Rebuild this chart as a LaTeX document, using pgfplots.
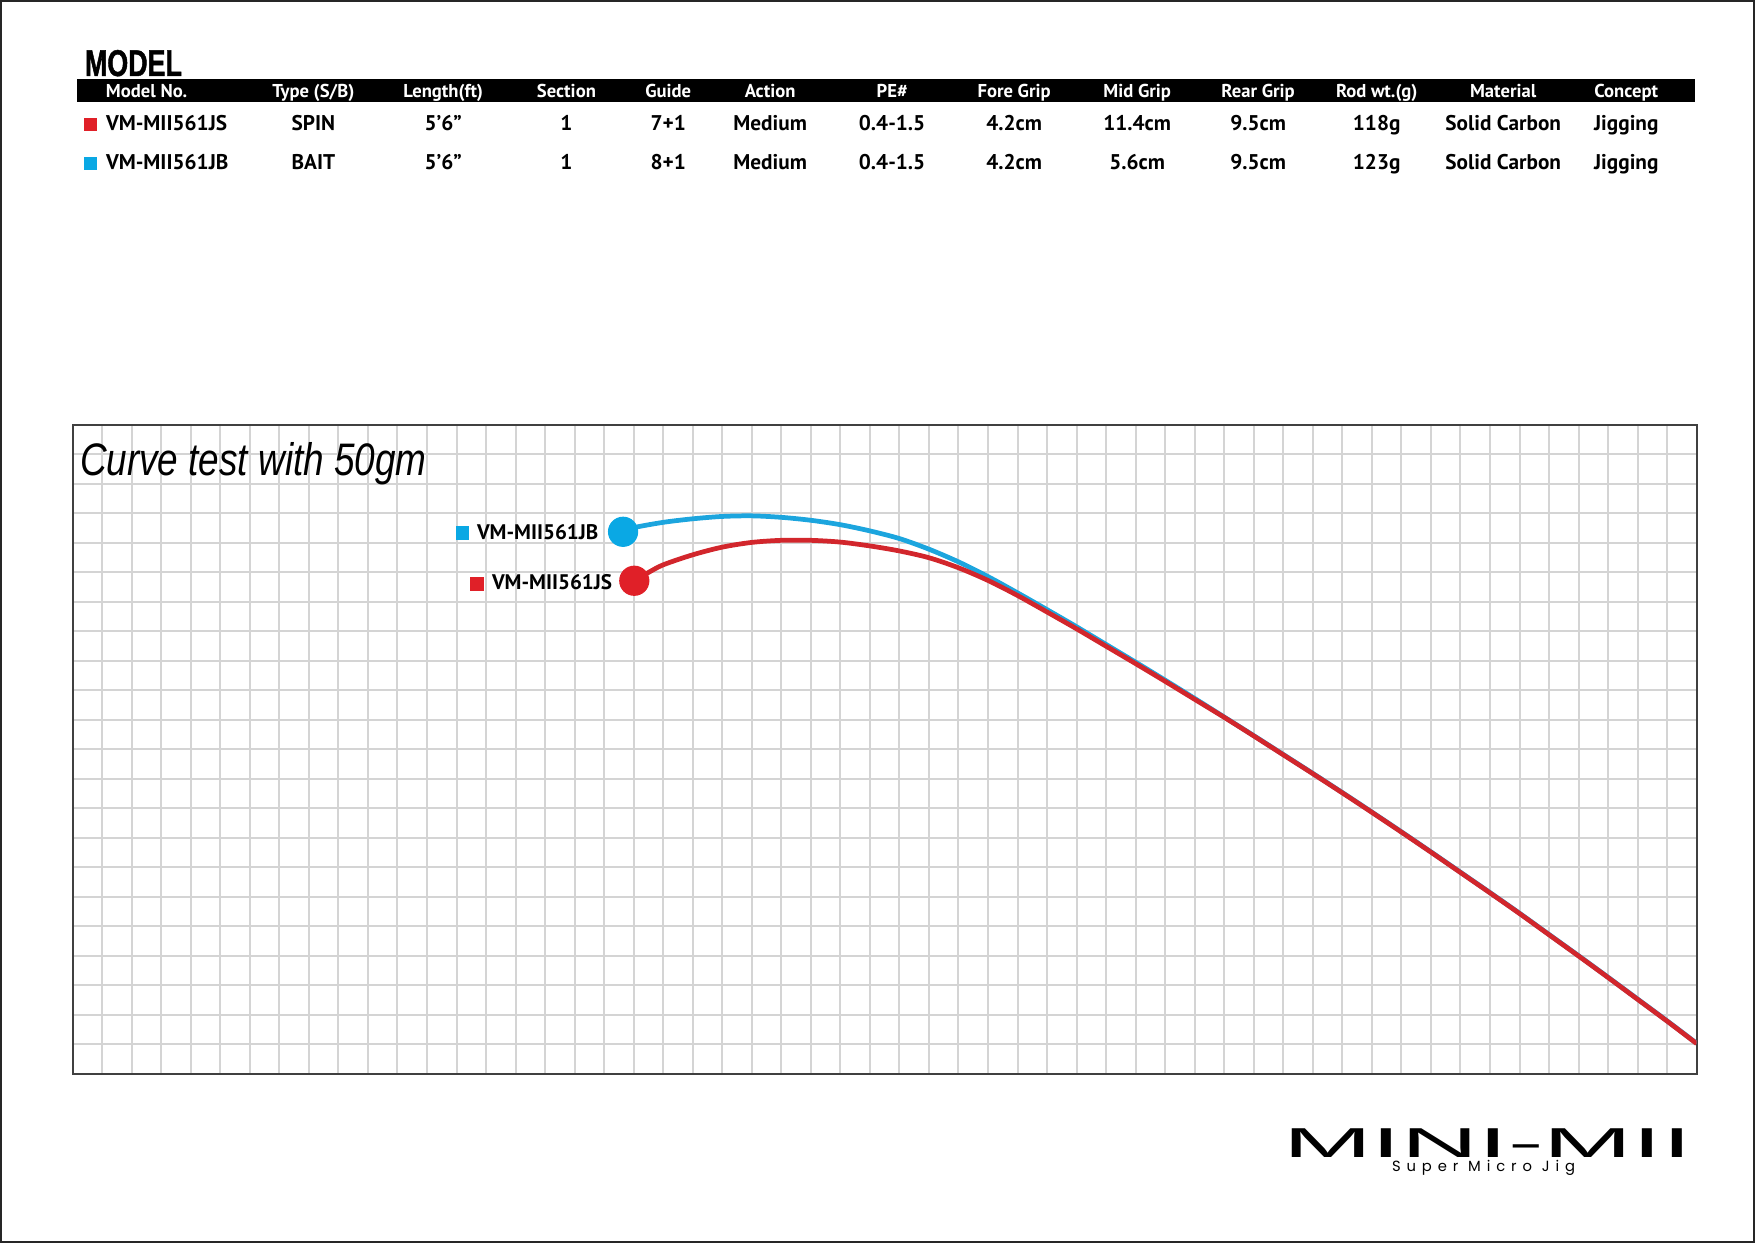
\documentclass[border=0pt]{standalone}
\usepackage{pgfplots}
\pgfplotsset{compat=1.18}
\usepackage{fontspec}
\setmainfont{PT Sans}
\newfontfamily\hdrfont{PT Sans}
\newfontfamily\modelfont[FakeStretch=0.72,FakeBold=1.2]{Liberation Sans}
\newfontfamily\curvefont[FakeStretch=0.81]{Liberation Sans}
\newfontfamily\logofont[FakeStretch=2.55]{Liberation Sans}
\newfontfamily\subfont[LetterSpace=40]{Poppins}
\definecolor{rRed}{RGB}{224,32,40}
\definecolor{rBlue}{RGB}{10,168,228}
\definecolor{lRed}{RGB}{210,38,44}
\definecolor{lBlue}{RGB}{28,165,222}
\begin{document}
\begin{tikzpicture}[x=0.1mm,y=0.1mm,every node/.style={inner sep=0pt,outer sep=0pt}]
\path[use as bounding box] (0,0) rectangle (1755,1243);
\draw[line width=0.2mm,black!85] (1,1) rectangle (1754,1242);

% title MODEL
\node[anchor=base west,font=\modelfont\bfseries\fontsize{10.6pt}{11pt}\selectfont] at (85,{1243-76}) {MODEL};
% header bar
\fill[black] (76.7,{1243-79.3}) rectangle (1694.6,{1243-101.7});
\begin{scope}[every node/.append style={anchor=base,text=white,font=\hdrfont\bfseries\fontsize{5.3pt}{6pt}\selectfont}]
\node at (146.6,{1243-97.7}) {Model No.};
\node at (313.4,{1243-97.7}) {Type (S/B)};
\node at (443.2,{1243-97.7}) {Length(ft)};
\node at (566.4,{1243-97.7}) {Section};
\node at (668.2,{1243-97.7}) {Guide};
\node at (770.1,{1243-97.7}) {Action};
\node at (892.1,{1243-97.7}) {PE\#};
\node at (1014.1,{1243-97.7}) {Fore Grip};
\node at (1137.2,{1243-97.7}) {Mid Grip};
\node at (1258.1,{1243-97.7}) {Rear Grip};
\node at (1376.7,{1243-97.7}) {Rod wt.(g)};
\node at (1503.2,{1243-97.7}) {Material};
\node at (1626.3,{1243-97.7}) {Concept};
\end{scope}
% rows
\begin{scope}[every node/.append style={font=\bfseries\fontsize{6.05pt}{7pt}\selectfont}]
\node[anchor=base west] at (84,{1243-130.7}) {\textcolor{rRed}{\rule{1.3mm}{1.25mm}}};
\node[anchor=base west] at (84,{1243-170}) {\textcolor{rBlue}{\rule{1.3mm}{1.25mm}}};
\node[anchor=base west] at (106,{1243-130.7}) {VM-MII561JS};
\node[anchor=base west] at (106,{1243-170}) {VM-MII561JB};
\foreach \x/\a/\b in {313.4/SPIN/BAIT, 443.2/5’6”/5’6”, 566.4/1/1, 668.2/7+1/8+1, 770.1/Medium/Medium, 892.1/0.4-1.5/0.4-1.5, 1014.1/4.2cm/4.2cm, 1137.2/11.4cm/5.6cm, 1258.1/9.5cm/9.5cm, 1376.7/118g/123g, 1503.2/Solid Carbon/Solid Carbon, 1626.3/Jigging/Jigging}{
  \node[anchor=base] at (\x,{1243-130.7}) {\a};
  \node[anchor=base] at (\x,{1243-170}) {\b};
}
\end{scope}

\begin{axis}[
  at={(7.27mm,16.9mm)}, anchor=south west,
  width=162.4mm, height=64.9mm, scale only axis,
  xmin=0, xmax=55, ymin=0, ymax=22,
  xtick={0,...,55}, ytick={0,...,22},
  xticklabels={}, yticklabels={},
  major tick length=0pt,
  grid=major,
  grid style={line width=0.2mm, black!17},
  axis line style={line width=0.2mm, black!75},
  clip=true,
]
\addplot[lBlue, line width=1.35pt, smooth] coordinates {
(18.64,18.38) (19,18.52) (20,18.7) (21,18.82) (22,18.9) (23,18.92) (24,18.87) (25,18.77) (26,18.62) (27,18.41) (28,18.15) (29,17.79) (30,17.36) (31,16.86) (32,16.31) (33,15.74) (34,15.16) (35,14.56) (36,13.96) (37,13.35) (38,12.73) (39,12.1) (40,11.47) (41,10.83) (42,10.19) (43,9.54) (44,8.88) (45,8.21) (46,7.53) (47,6.84) (48,6.15) (49,5.45) (50,4.73) (51,4.01) (52,3.28) (53,2.54) (54,1.8) (55,1.04)
};
\addplot[lRed, line width=1.35pt, smooth] coordinates {
(19.02,16.72) (19.5,17.0) (20,17.26) (21,17.6) (22,17.86) (23,18.02) (24,18.09) (25,18.09) (26,18.03) (27,17.9) (28,17.73) (29,17.5) (30,17.16) (31,16.73) (32,16.22) (33,15.66) (34,15.09) (35,14.5) (36,13.91) (37,13.31) (38,12.7) (39,12.09) (40,11.46) (41,10.82) (42,10.18) (43,9.53) (44,8.87) (45,8.2) (46,7.52) (47,6.83) (48,6.14) (49,5.44) (50,4.72) (51,4.0) (52,3.27) (53,2.53) (54,1.79) (55,1.03)
};
\addplot[only marks, mark=*, mark size=4.1pt, rBlue, mark options={draw=rBlue, fill=rBlue}] coordinates {(18.64,18.38)};
\addplot[only marks, mark=*, mark size=4.1pt, rRed, mark options={draw=rRed, fill=rRed}] coordinates {(19.02,16.72)};
\end{axis}

% chart title
\node[anchor=base west,font=\curvefont\itshape\fontsize{12.97pt}{14pt}\selectfont] at (80,{1243-476}) {Curve test with 50gm};
% curve labels
\begin{scope}[every node/.append style={font=\bfseries\fontsize{6.0pt}{7pt}\selectfont}]
\node[anchor=base west] at (456,{1243-540.5}) {\textcolor{rBlue}{\rule{1.3mm}{1.4mm}}};
\node[anchor=base west] at (477,{1243-540}) {VM-MII561JB};
\node[anchor=base west] at (470,{1243-590.7}) {\textcolor{rRed}{\rule{1.4mm}{1.4mm}}};
\node[anchor=base west] at (492,{1243-590}) {VM-MII561JS};
\end{scope}
% logo
\node[anchor=base west,font=\logofont\fontsize{11.9pt}{12pt}\selectfont] at (1283,{1243-1157.3}) {MINI-MII};
\node[anchor=base west,font=\subfont\fontsize{4.2pt}{5pt}\selectfont] at (1392,{1243-1172}) {Super Micro Jig};
\end{tikzpicture}
\end{document}
